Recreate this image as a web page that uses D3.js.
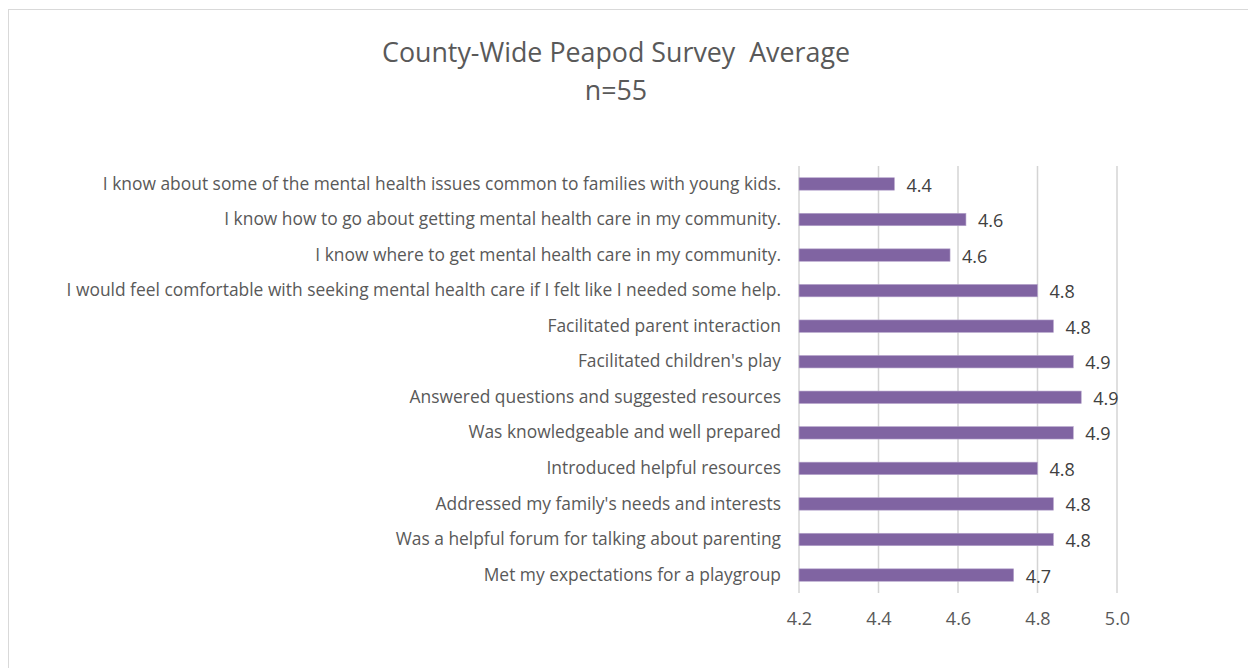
<!DOCTYPE html>
<html>
<head>
<meta charset="utf-8">
<script src="https://cdn.jsdelivr.net/npm/d3@7"></script>
<style>
  body { margin: 0; background: #fff; }
  text { font-family: "Open Sans", "Liberation Sans", sans-serif; }
</style>
</head>
<body>
<div id="chart"></div>
<script>
// survey statements, top to bottom
var categories = [
  "I know about some of the mental health issues common to families with young kids.",
  "I know how to go about getting mental health care in my community.",
  "I know where to get mental health care in my community.",
  "I would feel comfortable with seeking mental health care if I felt like I needed some help.",
  "Facilitated parent interaction",
  "Facilitated children's play",
  "Answered questions and suggested resources",
  "Was knowledgeable and well prepared",
  "Introduced helpful resources",
  "Addressed my family's needs and interests",
  "Was a helpful forum for talking about parenting",
  "Met my expectations for a playgroup"
];
var averages = [4.44, 4.62, 4.58, 4.80, 4.84, 4.89, 4.91, 4.89, 4.80, 4.84, 4.84, 4.74];
var xTicks = [4.2, 4.4, 4.6, 4.8, 5.0];
var titleLines = ["County-Wide Peapod Survey  Average", "n=55"];

var width = 1248, height = 668;
var margin = {top: 166, right: 131, bottom: 75, left: 799};

var svg = d3.select("#chart").append("svg")
    .attr("width", width)
    .attr("height", height);

// chart area border
svg.append("rect")
    .attr("x", 8.5).attr("y", 9.5)
    .attr("width", 1260).attr("height", 680)
    .attr("fill", "none")
    .attr("stroke", "#d9d9d9");

svg.append("text")
    .attr("x", 616)
    .attr("y", 62)
    .attr("text-anchor", "middle")
    .attr("font-size", 26.8)
    .attr("fill", "#595959")
    .style("white-space", "pre")
    .selectAll("tspan")
    .data(titleLines)
    .enter().append("tspan")
    .attr("x", 616)
    .attr("dy", function (d, i) { return i === 0 ? 0 : 38; })
    .text(function (d) { return d; });

var x = d3.scaleLinear()
    .domain([4.2, 5.0])
    .range([margin.left, width - margin.right]);

var y = d3.scaleBand()
    .domain(categories)
    .range([margin.top, height - margin.bottom])
    .paddingInner(0.65)
    .paddingOuter(0.33);

// gridlines
svg.append("g")
    .selectAll("line")
    .data(xTicks)
    .enter().append("line")
    .attr("x1", function (d) { return x(d); })
    .attr("x2", function (d) { return x(d); })
    .attr("y1", margin.top)
    .attr("y2", height - margin.bottom)
    .attr("stroke", "#d4d4d4")
    .attr("stroke-width", 1.5);

// x axis labels
var xAxis = d3.axisBottom(x)
    .tickValues(xTicks)
    .tickFormat(d3.format(".1f"))
    .tickSize(0)
    .tickPadding(19);

var gx = svg.append("g")
    .attr("transform", "translate(0," + (height - margin.bottom) + ")")
    .call(xAxis);
gx.select(".domain").remove();
gx.selectAll("text")
    .attr("font-size", 18)
    .attr("fill", "#595959")
    .style("font-family", "\"Open Sans\", sans-serif");

// category labels
var yAxis = d3.axisLeft(y).tickSize(0).tickPadding(18);
var gy = svg.append("g")
    .attr("transform", "translate(" + margin.left + ",0)")
    .call(yAxis);
gy.select(".domain").remove();
gy.selectAll("text")
    .attr("font-size", 17.4)
    .attr("fill", "#595959")
    .style("font-family", "\"Open Sans\", sans-serif");

// bars
svg.append("g")
    .selectAll("rect")
    .data(categories)
    .enter().append("rect")
    .attr("x", x(4.2))
    .attr("y", function (d) { return y(d); })
    .attr("width", function (d, i) { return x(averages[i]) - x(4.2); })
    .attr("height", y.bandwidth())
    .attr("fill", "#8064a2")
    .attr("stroke", "#b6a5cc")
    .attr("stroke-width", 0.6);

// value labels
svg.append("g")
    .selectAll("text")
    .data(categories)
    .enter().append("text")
    .attr("x", function (d, i) { return x(averages[i]) + 12; })
    .attr("y", function (d) { return y(d) + y.bandwidth() / 2; })
    .attr("dy", "0.42em")
    .attr("font-size", 18)
    .attr("fill", "#404040")
    .text(function (d, i) { return d3.format(".1f")(averages[i]); });
</script>
</body>
</html>
